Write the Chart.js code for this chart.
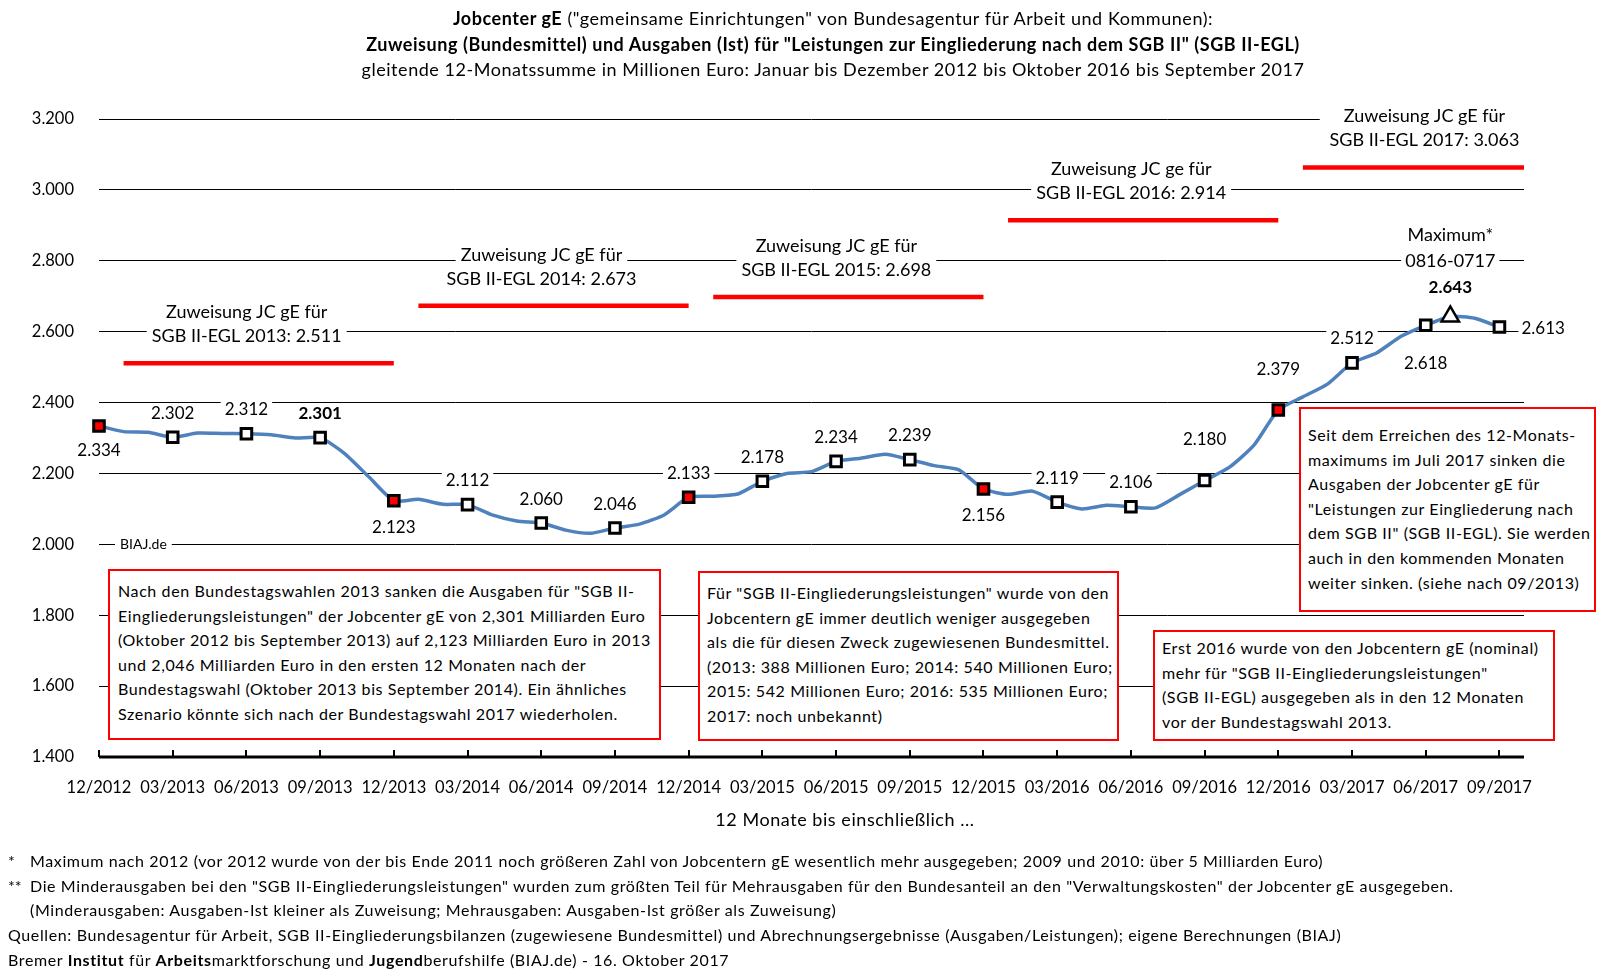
<!DOCTYPE html>
<html>
<head>
<meta charset="utf-8">
<script src="https://cdn.jsdelivr.net/npm/chart.js@4"></script>
<style>
  body { margin: 0; background: #fff; font-family: Lato, sans-serif; color: #000; }
  #page { position: relative; width: 1603px; height: 978px; overflow: hidden; }
  #chart { position: absolute; left: 0; top: 0; }
  .title { position: absolute; left: 0; top: 6px; width: 1666px; text-align: center; font-size: 18px; letter-spacing: 0.55px; line-height: 25.5px; white-space: nowrap; }
  .xtitle { position: absolute; left: 0; top: 807px; width: 1690px; text-align: center; font-size: 18px; letter-spacing: 0.55px; line-height: 24px; }
  .box { position: absolute; box-sizing: border-box; border: 2px solid #ff0000; background: #fff; font-size: 16px; letter-spacing: 0.6px; line-height: 24.6px; white-space: nowrap; }
  .notes { position: absolute; left: 8px; top: 849px; font-size: 16px; letter-spacing: 0.62px; line-height: 24.7px; white-space: nowrap; }
  .notes .ind { display: inline-block; width: 22px; letter-spacing: 0; }
</style>
</head>
<body>
<div id="page">
  <canvas id="chart" width="1603" height="978"></canvas>

  <div class="title">
    <b>Jobcenter gE</b> ("gemeinsame Einrichtungen" von Bundesagentur für Arbeit und Kommunen):<br>
    <b>Zuweisung (Bundesmittel) und Ausgaben (Ist) für "Leistungen zur Eingliederung nach dem SGB II" (SGB II-EGL)</b><br>
    gleitende 12-Monatssumme in Millionen Euro: Januar bis Dezember 2012 bis Oktober 2016 bis September 2017
  </div>

  <div class="xtitle">12 Monate bis einschließlich ...</div>

  <div class="box" style="left:108px; top:569px; width:553px; height:171px; padding:8px 0 0 8px;">
    Nach den Bundestagswahlen 2013 sanken die Ausgaben für "SGB II-<br>
    Eingliederungsleistungen" der Jobcenter gE von 2,301 Milliarden Euro<br>
    (Oktober 2012 bis September 2013) auf 2,123 Milliarden Euro in 2013<br>
    und 2,046 Milliarden Euro in den ersten 12 Monaten nach der<br>
    Bundestagswahl (Oktober 2013 bis September 2014). Ein ähnliches<br>
    Szenario könnte sich nach der Bundestagswahl 2017 wiederholen.
  </div>

  <div class="box" style="left:698px; top:571px; width:421px; height:170px; padding:8px 0 0 7px;">
    Für "SGB II-Eingliederungsleistungen" wurde von den<br>
    Jobcentern gE immer deutlich weniger ausgegeben<br>
    als die für diesen Zweck zugewiesenen Bundesmittel.<br>
    (2013: 388 Millionen Euro; 2014: 540 Millionen Euro;<br>
    2015: 542 Millionen Euro; 2016: 535 Millionen Euro;<br>
    2017: noch unbekannt)
  </div>

  <div class="box" style="left:1153px; top:630px; width:402px; height:111px; padding:4px 0 0 7px;">
    Erst 2016 wurde von den Jobcentern gE (nominal)<br>
    mehr für "SGB II-Eingliederungsleistungen"<br>
    (SGB II-EGL) ausgegeben als in den 12 Monaten<br>
    vor der Bundestagswahl 2013.
  </div>

  <div class="box" style="left:1299px; top:407px; width:297px; height:205px; padding:14px 0 0 7px;">
    Seit dem Erreichen des 12-Monats-<br>
    maximums im Juli 2017 sinken die<br>
    Ausgaben der Jobcenter gE für<br>
    "Leistungen zur Eingliederung nach<br>
    dem SGB II" (SGB II-EGL). Sie werden<br>
    auch in den kommenden Monaten<br>
    weiter sinken. (siehe nach 09/2013)
  </div>

  <div class="notes">
    <span class="ind">*</span>Maximum nach 2012 (vor 2012 wurde von der bis Ende 2011 noch größeren Zahl von Jobcentern gE wesentlich mehr ausgegeben; 2009 und 2010: über 5 Milliarden Euro)<br>
    <span class="ind">**</span>Die Minderausgaben bei den "SGB II-Eingliederungsleistungen" wurden zum größten Teil für Mehrausgaben für den Bundesanteil an den "Verwaltungskosten" der Jobcenter gE ausgegeben.<br>
    <span class="ind"></span>(Minderausgaben: Ausgaben-Ist kleiner als Zuweisung; Mehrausgaben: Ausgaben-Ist größer als Zuweisung)<br>
    Quellen: Bundesagentur für Arbeit, SGB II-Eingliederungsbilanzen (zugewiesene Bundesmittel) und Abrechnungsergebnisse (Ausgaben/Leistungen); eigene Berechnungen (BIAJ)<br>
    Bremer <b>Institut</b> für <b>Arbeits</b>marktforschung und <b>Jugend</b>berufshilfe (BIAJ.de) - 16. Oktober 2017
  </div>
</div>

<script>
// Monate (12 Monate bis einschließlich ...)
const months = [
  '12/2012',
  '01/2013', '02/2013', '03/2013', '04/2013', '05/2013', '06/2013', '07/2013', '08/2013', '09/2013', '10/2013', '11/2013', '12/2013',
  '01/2014', '02/2014', '03/2014', '04/2014', '05/2014', '06/2014', '07/2014', '08/2014', '09/2014', '10/2014', '11/2014', '12/2014',
  '01/2015', '02/2015', '03/2015', '04/2015', '05/2015', '06/2015', '07/2015', '08/2015', '09/2015', '10/2015', '11/2015', '12/2015',
  '01/2016', '02/2016', '03/2016', '04/2016', '05/2016', '06/2016', '07/2016', '08/2016', '09/2016', '10/2016', '11/2016', '12/2016',
  '01/2017', '02/2017', '03/2017', '04/2017', '05/2017', '06/2017', '07/2017', '08/2017', '09/2017', '10/2017'
];

// Ausgaben (Ist), gleitende 12-Monatssumme, Mio. Euro
const ausgaben = [
  2334, 2318, 2316, 2302, 2314, 2313, 2312, 2309, 2300, 2301, 2256, 2189, 2123,
  2127, 2113, 2112, 2083, 2066, 2060, 2040, 2031, 2046, 2057, 2083, 2133,
  2136, 2142, 2178, 2200, 2205, 2234, 2243, 2254, 2239, 2222, 2210, 2156,
  2141, 2150, 2119, 2100, 2110, 2106, 2103, 2141, 2180, 2217, 2279, 2379,
  2416, 2452, 2512, 2540, 2587, 2618, 2643, 2638, 2613, null
];

// Zuweisung JC gE je Jahr, Mio. Euro
const zuweisungJahre = ['2013', '2014', '2015', '2016', '2017'];
const zuweisungWerte = [2511, 2673, 2698, 2914, 3063];
const zuweisungTitel = ['Zuweisung JC gE für', 'Zuweisung JC gE für', 'Zuweisung JC gE für', 'Zuweisung JC ge für', 'Zuweisung JC gE für'];

// Markierte Monate mit Wertbeschriftung
const markerMonate = ['12/2012', '03/2013', '06/2013', '09/2013', '12/2013', '03/2014', '06/2014', '09/2014',
  '12/2014', '03/2015', '06/2015', '09/2015', '12/2015', '03/2016', '06/2016', '09/2016',
  '12/2016', '03/2017', '06/2017', '07/2017', '09/2017'];
const fettMonate = ['09/2013', '07/2017'];

const yTicks = { min: 1400, max: 3200, step: 200 };

// Lage der Beschriftungen (nicht Daten)
const labelLage = {
  '12/2012': [0, 25], '12/2013': [0, 27], '12/2015': [0, 26],
  '09/2016': [0, -41], '12/2016': [0, -40], '06/2017': [0, 38], '07/2017': [0, -29]
};
const zuweisungTextShift = [-12, -12, -12, -12, 11];
const zuweisungTextPad = [5, 5, 5, 5, 24];

const fmt = v => Math.floor(v / 1000) + '.' + String(Math.round(v % 1000)).padStart(3, '0');

const maxIdx = ausgaben.indexOf(Math.max(...ausgaben.filter(v => v !== null)));
const markerIdx = markerMonate.map(m => months.indexOf(m));

// Zuweisungslinien: jeweils die Monate des Jahres
const zuweisungSets = zuweisungJahre.map((jahr, k) => ({
  label: 'Zuweisung ' + jahr,
  data: months.map(m => m.endsWith('/' + jahr) ? zuweisungWerte[k] : null),
  borderColor: '#ff0000',
  borderWidth: 4.5,
  pointRadius: 0,
  spanGaps: false,
  clip: false
}));

function textBox(ctx, text, x, y, align, pad) {
  const w = ctx.measureText(text).width;
  const h = 20;
  let left = align === 'left' ? x : x - w / 2;
  ctx.fillStyle = '#fff';
  ctx.fillRect(left - pad, y - h / 2, w + 2 * pad, h);
  ctx.fillStyle = '#000';
  ctx.textAlign = align;
  ctx.fillText(text, x, y);
}

const overlay = {
  id: 'overlay',
  afterDatasetsDraw(chart) {
    const { ctx, chartArea: a, scales: { x, y } } = chart;
    ctx.save();

    // X-Achse mit innenliegenden Teilstrichen
    ctx.strokeStyle = '#000';
    ctx.lineWidth = 3;
    ctx.beginPath();
    ctx.moveTo(a.left, a.bottom);
    ctx.lineTo(a.right, a.bottom);
    ctx.stroke();
    ctx.lineWidth = 2;
    ctx.beginPath();
    months.forEach((m, i) => {
      if (i % 3 === 0 && ausgaben[i] !== null) {
        const px = Math.round(x.getPixelForValue(i));
        ctx.moveTo(px, a.bottom);
        ctx.lineTo(px, a.bottom - 7);
      }
    });
    ctx.stroke();

    ctx.textBaseline = 'middle';

    // Wertbeschriftungen
    markerIdx.forEach(i => {
      const m = months[i];
      const px = x.getPixelForValue(i);
      const py = y.getPixelForValue(ausgaben[i]);
      ctx.font = (fettMonate.includes(m) ? 'bold ' : '') + '17px Lato';
      if (i === ausgaben.length - 2) {
        textBox(ctx, fmt(ausgaben[i]), px + 22, py + 1, 'left', 3);
        return;
      }
      const off = labelLage[m] || [0, -24];
      textBox(ctx, fmt(ausgaben[i]), px + off[0], py + off[1], 'center', 4);
    });

    // Maximum
    ctx.font = '18px Lato';
    const mx = x.getPixelForValue(maxIdx);
    const my = y.getPixelForValue(ausgaben[maxIdx]);
    textBox(ctx, 'Maximum*', mx, my - 81, 'center', 4);
    textBox(ctx, '0816-0717', mx, my - 55, 'center', 4);

    // Zuweisungstexte
    zuweisungSets.forEach((ds, k) => {
      const idx = ds.data.map((v, i) => v !== null ? i : -1).filter(i => i >= 0);
      const xs = x.getPixelForValue(idx[0]);
      const xe = x.getPixelForValue(idx[idx.length - 1]);
      const cx = (xs + xe) / 2 + zuweisungTextShift[k];
      const ry = y.getPixelForValue(zuweisungWerte[k]);
      textBox(ctx, zuweisungTitel[k], cx, ry - 51, 'center', zuweisungTextPad[k]);
      textBox(ctx, 'SGB II-EGL ' + zuweisungJahre[k] + ': ' + fmt(zuweisungWerte[k]), cx, ry - 27, 'center', 5);
    });

    // Quelle
    ctx.font = '14px Lato';
    textBox(ctx, 'BIAJ.de', a.left + 21, y.getPixelForValue(2000), 'left', 5);

    ctx.restore();
  }
};

Chart.defaults.font.family = 'Lato';
Chart.defaults.color = '#000';

new Chart(document.getElementById('chart'), {
  type: 'line',
  data: {
    labels: months,
    datasets: [
      {
        label: 'Ausgaben (Ist)',
        data: ausgaben,
        borderColor: '#4f81bd',
        borderWidth: 3.5,
        tension: 0.2,
        clip: false,
        pointStyle: ctx => ctx.dataIndex === maxIdx ? 'triangle' : 'rect',
        pointRadius: ctx => ctx.dataIndex === maxIdx ? 10 : (markerIdx.includes(ctx.dataIndex) ? 7.5 : 0),
        pointBackgroundColor: ctx => months[ctx.dataIndex].startsWith('12/') && ctx.dataIndex !== maxIdx ? '#ff0000' : '#ffffff',
        pointBorderColor: '#000',
        pointBorderWidth: ctx => ctx.dataIndex === maxIdx ? 2.5 : 3
      },
      ...zuweisungSets
    ]
  },
  options: {
    responsive: false,
    animation: false,
    events: [],
    layout: { padding: { left: 0, right: 79, top: 119, bottom: 161 } },
    plugins: { legend: { display: false }, tooltip: { enabled: false } },
    scales: {
      x: {
        type: 'category',
        offset: false,
        grid: { display: false, drawTicks: false },
        border: { display: false },
        ticks: {
          autoSkip: false,
          maxRotation: 0,
          minRotation: 0,
          padding: 21,
          font: { size: 16.5 },
          callback: (v, i) => (i % 3 === 0 && ausgaben[i] !== null) ? months[i] : ''
        },
        afterFit: s => { s.height = 60; }
      },
      y: {
        min: yTicks.min,
        max: yTicks.max,
        grid: { color: '#000', lineWidth: 1, drawTicks: false },
        border: { display: false },
        ticks: {
          stepSize: yTicks.step,
          padding: 25,
          font: { size: 16.5 },
          callback: v => fmt(v)
        },
        afterFit: s => { s.width = 99; }
      }
    }
  },
  plugins: [overlay]
});
</script>
</body>
</html>
